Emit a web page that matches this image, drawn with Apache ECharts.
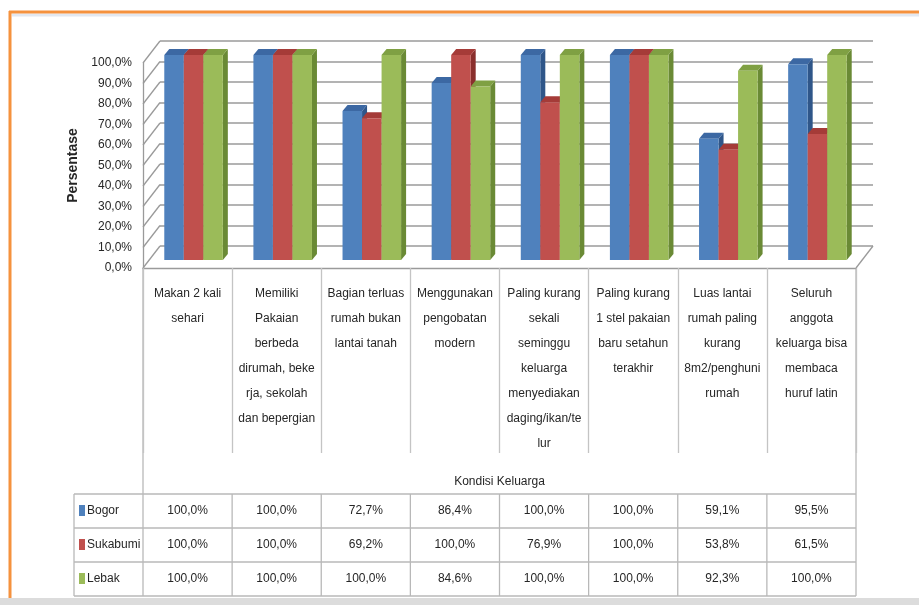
<!DOCTYPE html>
<html>
<head>
<meta charset="utf-8">
<script src="https://cdn.jsdelivr.net/npm/echarts@6/dist/echarts.min.js"></script>
<style>html,body{margin:0;padding:0;background:#fff}#c{width:919px;height:605px}</style>
</head>
<body>
<div id="c"></div>
<script>
const categories = [
  'Makan 2 kali\nsehari',
  'Memiliki\nPakaian\nberbeda\ndirumah, beke\nrja, sekolah\ndan bepergian',
  'Bagian terluas\nrumah bukan\nlantai tanah',
  'Menggunakan\npengobatan\nmodern',
  'Paling kurang\nsekali\nseminggu\nkeluarga\nmenyediakan\ndaging/ikan/te\nlur',
  'Paling kurang\n1 stel pakaian\nbaru setahun\nterakhir',
  'Luas lantai\nrumah paling\nkurang\n8m2/penghuni\nrumah',
  'Seluruh\nanggota\nkeluarga bisa\nmembaca\nhuruf latin'
];
const seriesNames = ['Bogor', 'Sukabumi', 'Lebak'];
const bogor    = [100.0, 100.0, 72.7, 86.4, 100.0, 100.0, 59.1, 95.5];
const sukabumi = [100.0, 100.0, 69.2, 100.0, 76.9, 100.0, 53.8, 61.5];
const lebak    = [100.0, 100.0, 100.0, 84.6, 100.0, 100.0, 92.3, 100.0];
const yTicks = [0, 10, 20, 30, 40, 50, 60, 70, 80, 90, 100];
const axisTitleX = 'Kondisi Keluarga';
const axisTitleY = 'Persentase';

const seriesData = [bogor, sukabumi, lebak];
const palette = [
  {front:'#4F81BD', side:'#2F5689', top:'#3C68A3'},
  {front:'#C0504D', side:'#8A2F2D', top:'#A53B38'},
  {front:'#9BBB59', side:'#6A8A35', top:'#7FA043'}
];
const FONT = "'Liberation Sans',Arial,sans-serif";
const TXT = '#262626';
const GL = 143, GR = 856, GT = 63, GB = 268;
const WX = 17, WY = -22;   // wall depth
const DX = 6, DY = -8;     // bar row depth shift
const SX = 5, SY = -6;     // bar own depth
const fmt = v => v.toFixed(1).replace('.', ',') + '%';

function barRender(sIdx) {
  const c = palette[sIdx];
  return function (params, api) {
    const cat = api.value(0), v = api.value(1);
    const base = api.coord([cat, 0]);
    const top = api.coord([cat, v]);
    const band = api.size([1, 0])[0];
    const w = band * 0.219;
    const cx = base[0] + (sIdx - 1) * w + DX;
    const x0 = cx - w / 2, x1 = cx + w / 2;
    const yb = base[1] + DY, yt = top[1] + DY;
    return {
      type: 'group',
      children: [
        {type:'polygon', shape:{points:[[x1,yt],[x1+SX,yt+SY],[x1+SX,yb+SY],[x1,yb]]}, style:{fill:c.side}},
        {type:'polygon', shape:{points:[[x0,yt],[x0+SX,yt+SY],[x1+SX,yt+SY],[x1,yt]]}, style:{fill:c.top}},
        {type:'rect', shape:{x:x0, y:yt, width:w, height:yb-yt}, style:{fill:c.front}}
      ]
    };
  };
}

function wallRender(params, api) {
  const v = api.value(1);
  const y = api.coord([0, v])[1];
  const left = params.coordSys.x;
  const right = params.coordSys.x + params.coordSys.width;
  const children = [
    {type:'line', shape:{x1:left, y1:y, x2:left+WX, y2:y+WY}, style:{stroke:'#9a9a9a', lineWidth:1.3}}
  ];
  if (v === 0) {
    children.push({type:'line', shape:{x1:right, y1:y, x2:right+WX, y2:y+WY}, style:{stroke:'#9a9a9a', lineWidth:1.3}});
  }
  return {type:'group', children};
}

const chart = echarts.init(document.getElementById('c'), null, {renderer:'canvas'});
const option = {
  animation: false,
  backgroundColor: '#fff',
  grid: [
    {left: GL, top: GT, width: GR - GL, height: GB - GT},
    {left: GL + WX, top: GT + WY, width: GR - GL, height: GB - GT}
  ],
  xAxis: [
    {
      type: 'category', gridIndex: 0, data: categories,
      axisLine: {show: true, lineStyle: {color: '#9a9a9a', width: 1.3}},
      axisTick: {show: true, length: 185, lineStyle: {color: '#c4c4c4', width: 1.3}},
      axisLabel: {interval: 0, margin: 13, lineHeight: 25, fontFamily: FONT, fontSize: 12, color: TXT, align: 'center'},
      splitLine: {show: false},
      name: axisTitleX, nameLocation: 'middle', nameGap: 208,
      nameTextStyle: {fontFamily: FONT, fontSize: 12, color: TXT}
    },
    {
      type: 'value', gridIndex: 1, min: 0, max: 1, show: false
    }
  ],
  yAxis: [
    {
      type: 'value', gridIndex: 0, min: yTicks[0], max: yTicks[yTicks.length - 1], interval: yTicks[1] - yTicks[0],
      axisLine: {show: true, lineStyle: {color: '#9a9a9a', width: 1.3}},
      axisTick: {show: false},
      splitLine: {show: false},
      axisLabel: {formatter: v => fmt(v), margin: 11, fontFamily: FONT, fontSize: 12, color: TXT},
      name: axisTitleY, nameLocation: 'middle', nameGap: 63, nameRotate: 90,
      nameTextStyle: {fontFamily: FONT, fontSize: 14, fontWeight: 'bold', color: TXT}
    },
    {
      type: 'value', gridIndex: 1, min: yTicks[0], max: yTicks[yTicks.length - 1], interval: yTicks[1] - yTicks[0],
      axisLine: {show: false}, axisTick: {show: false}, axisLabel: {show: false},
      splitLine: {show: true, lineStyle: {color: '#9a9a9a', width: 1.6}}
    }
  ],
  series: [
    {
      type: 'custom', xAxisIndex: 0, yAxisIndex: 0, silent: true, z: 1,
      renderItem: wallRender,
      data: yTicks.map(t => [0, t])
    }
  ].concat(seriesData.map((d, s) => ({
    type: 'custom', name: seriesNames[s], xAxisIndex: 0, yAxisIndex: 0, z: 3 + s,
    renderItem: barRender(s),
    data: d.map((v, i) => [i, v])
  })))
};
chart.setOption(option);

// data table below the chart, positioned from the category axis
const centers = categories.map((c, i) => chart.convertToPixel({xAxisIndex: 0}, i));
const band = centers[1] - centers[0];
const leftEdge = centers[0] - band / 2;
const rightEdge = centers[centers.length - 1] + band / 2;
const tableTop = 494, rowH = 34, legendLeft = 74;
const lineCol = '#b8b8b8';
const g = [];
// frame
g.push({type:'rect', shape:{x:0, y:598, width:919, height:7}, style:{fill:'#dcdcdc'}});
g.push({type:'line', shape:{x1:12, y1:15, x2:919, y2:15}, style:{stroke:'#e3e8f0', lineWidth:3}});
g.push({type:'line', shape:{x1:9, y1:12, x2:919, y2:12}, style:{stroke:'#F5923E', lineWidth:3}});
g.push({type:'line', shape:{x1:10, y1:11, x2:10, y2:598}, style:{stroke:'#F5923E', lineWidth:3}});
// outer verticals of label/table area
g.push({type:'line', shape:{x1:leftEdge, y1:GB, x2:leftEdge, y2:tableTop + 3 * rowH}, style:{stroke:lineCol, lineWidth:1.3}});
g.push({type:'line', shape:{x1:rightEdge, y1:GB, x2:rightEdge, y2:tableTop + 3 * rowH}, style:{stroke:lineCol, lineWidth:1.3}});
g.push({type:'line', shape:{x1:legendLeft, y1:tableTop, x2:legendLeft, y2:tableTop + 3 * rowH}, style:{stroke:lineCol, lineWidth:1.3}});
for (let r = 0; r <= 3; r++) {
  const y = tableTop + r * rowH;
  g.push({type:'line', shape:{x1:legendLeft, y1:y, x2:rightEdge, y2:y}, style:{stroke:lineCol, lineWidth:1.3}});
}
for (let i = 1; i < categories.length; i++) {
  const x = leftEdge + i * band;
  g.push({type:'line', shape:{x1:x, y1:tableTop, x2:x, y2:tableTop + 3 * rowH}, style:{stroke:lineCol, lineWidth:1.3}});
}
seriesData.forEach((d, s) => {
  const yc = tableTop + s * rowH + rowH / 2;
  g.push({type:'rect', shape:{x:79, y:yc - 6, width:6, height:11}, style:{fill:palette[s].front}});
  g.push({type:'text', x:87, y:yc, style:{text:seriesNames[s], fontFamily:FONT, fontSize:12, fill:TXT, align:'left', verticalAlign:'middle'}});
  d.forEach((v, i) => {
    g.push({type:'text', x:centers[i], y:yc, style:{text:fmt(v), fontFamily:FONT, fontSize:12, fill:TXT, align:'center', verticalAlign:'middle'}});
  });
});
chart.setOption({graphic: {elements: g}});
</script>
</body>
</html>
